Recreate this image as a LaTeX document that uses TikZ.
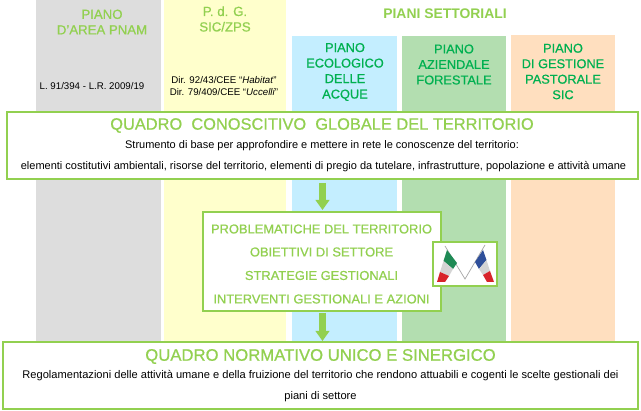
\documentclass[tikz,border=0pt]{standalone}
\usepackage{fontspec}
\setmainfont{Liberation Sans}
\newfontfamily\hvy[FakeBold=0.7]{Liberation Sans}
\usetikzlibrary{arrows.meta,calc}
\definecolor{lgreen}{HTML}{92D050}
\definecolor{dgreen}{HTML}{00B050}
\definecolor{cgray}{HTML}{DDDDDD}
\definecolor{cyellow}{HTML}{FFFFCC}
\definecolor{cblue}{HTML}{C4EEFF}
\definecolor{cgreen}{HTML}{B3DEB0}
\definecolor{corange}{HTML}{FFDFBF}
\definecolor{itgreen}{HTML}{1F8A55}
\definecolor{itwhite}{HTML}{D4D4D4}
\definecolor{itred}{HTML}{D8232A}
\definecolor{frblue}{HTML}{2F4F9A}
\tikzset{
  frame/.style={draw=lgreen,line width=2pt,fill=white,inner sep=0pt,outer sep=0pt},
  lhead/.style={text=lgreen,align=center,font=\hvy\fontsize{13.2}{15.5}\selectfont,inner sep=0pt},
  shead/.style={text=dgreen,align=center,font=\hvy\fontsize{12.8}{15.5}\selectfont,inner sep=0pt},
  big/.style={text=lgreen,font=\hvy\fontsize{16.4}{20}\selectfont,inner sep=0pt},
  body/.style={text=black,font=\fontsize{11}{13}\selectfont,inner sep=0pt},
  bodyb/.style={text=black,font=\fontsize{11.1}{13}\selectfont,inner sep=0pt},
  smalla/.style={text=black,align=center,font=\fontsize{9.7}{12}\selectfont,inner sep=0pt},
  midt/.style={text=lgreen,font=\hvy\fontsize{12.9}{14}\selectfont,inner sep=0pt},
  blockarrow/.style={draw=lgreen,line width=7.5pt,-{Triangle[length=10pt,width=13.5pt]}},
  pole/.style={draw=gray!70,line width=0.7pt}
}
\begin{document}
\begin{tikzpicture}[x=1pt,y=-1pt]
\useasboundingbox (0,0) rectangle (641,411);
\fill[white] (0,0) rectangle (641,411);
% columns
\path[fill=cgray] (36,0) rectangle (161,341);
\path[fill=cyellow] (164,0) rectangle (286,341);
\path[fill=cblue] (292,36) rectangle (397,341);
\path[fill=cgreen] (402,36) rectangle (506,341);
\path[fill=corange] (511,35) rectangle (615,341);
% column heads
\node[lhead] (t1) at (102,22) {PIANO\\[0pt]D’AREA PNAM};
\node[lhead] (t2) at (225,19) {P. d. G.\\[0pt]SIC/ZPS};
\node[lhead,font=\bfseries\fontsize{13.9}{16}\selectfont] (t3) at (445,13.5) {PIANI SETTORIALI};
\node[shead] (s1) at (345,72) {PIANO\\ECOLOGICO\\DELLE\\ACQUE};
\node[shead] (s2) at (454,64.5) {PIANO\\AZIENDALE\\FORESTALE};
\node[shead] (s3) at (563,71.5) {PIANO\\DI GESTIONE\\PASTORALE\\SIC};
\node[smalla] (n1) at (92,86.5) {L. 91/394 - L.R. 2009/19};
\node[smalla] (n2) at (224,86) {Dir. 92/43/CEE “\textit{Habitat}”\\Dir. 79/409/CEE “\textit{Uccelli}”};
% boxes
\node[frame,minimum width=631pt,minimum height=67pt] (boxa) at (322.5,145.5) {};
\node[big] (a1) at (322,125.5) {QUADRO\ \ CONOSCITIVO\ \ GLOBALE DEL TERRITORIO};
\node[body] (a2) at (322,146) {Strumento di base per approfondire e mettere in rete le conoscenze del territorio:};
\node[body] (a3) at (323.5,166.5) {elementi costitutivi ambientali, risorse del territorio, elementi di pregio da tutelare, infrastrutture, popolazione e attività umane};
\node[frame,minimum width=238pt,minimum height=99pt] (boxb) at (322,261.5) {};
\node[midt] (b1) at (321.5,229) {PROBLEMATICHE DEL TERRITORIO};
\node[midt] (b2) at (321.5,252) {OBIETTIVI DI SETTORE};
\node[midt] (b3) at (321.5,275.5) {STRATEGIE GESTIONALI};
\node[midt] (b4) at (321.5,299) {INTERVENTI GESTIONALI E AZIONI};
\node[frame,minimum width=635pt,minimum height=67pt] (boxc) at (320.5,375.5) {};
\node[big,font=\hvy\fontsize{16.7}{20}\selectfont] (c1) at (320.5,356.5) {QUADRO NORMATIVO UNICO E SINERGICO};
\node[bodyb] (c2) at (320.5,376) {Regolamentazioni delle attività umane e della fruizione del territorio che rendono attuabili e cogenti le scelte gestionali dei};
\node[bodyb] (c3) at (320.5,396.5) {piani di settore};
% arrows
\draw[blockarrow,shorten <=4pt,shorten >=2pt] (boxa.south) -- (boxa.south |- boxb.north);
\draw[blockarrow,shorten <=2pt,shorten >=1pt] (boxa.south |- boxb.south) -- (boxa.south |- boxc.north);
% flag box
\node[frame,minimum width=64pt,minimum height=44pt] (boxf) at (465,264) {};
\draw[pole] (445,246) -- (465,279) -- (485,245);
\fill[itgreen] (447,250) -- (457,263) -- (453,269) -- (443.5,261) -- cycle;
\fill[itwhite] (443.5,261) -- (453,269) -- (449,276) -- (440,272) -- cycle;
\fill[itred] (440,272) -- (449,276) -- (445,282) -- (437,282) -- cycle;
\fill[frblue] (483,250) -- (475,262) -- (479,269) -- (486.5,260) -- cycle;
\fill[itwhite] (486.5,260) -- (479,269) -- (483,275) -- (490,271) -- cycle;
\fill[itred] (490,271) -- (483,275) -- (487,282) -- (494,282) -- cycle;
\end{tikzpicture}
\end{document}
